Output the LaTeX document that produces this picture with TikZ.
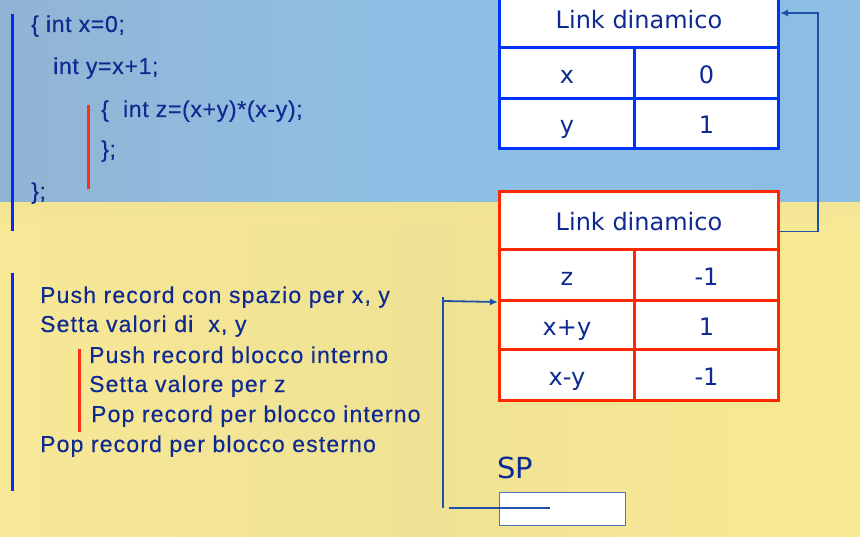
\documentclass[tikz,border=0pt]{standalone}
\usepackage{fontspec}
\setmainfont{Liberation Sans}
\newfontfamily\cellfont{DejaVu Sans}
\newfontfamily\codefont[LetterSpace=3,FakeBold=0.4]{Liberation Sans}
\newfontfamily\stepfont[LetterSpace=5,FakeBold=0.4]{Liberation Sans}
\usetikzlibrary{arrows.meta,calc}

\definecolor{txtblue}{RGB}{14,42,145}
\definecolor{barblue}{RGB}{10,40,250}
\definecolor{barred}{RGB}{250,50,20}
\definecolor{tblblue}{RGB}{0,50,255}
\definecolor{tblred}{RGB}{255,40,0}
\definecolor{linkblue}{RGB}{30,80,170}
\definecolor{spframe}{RGB}{80,115,190}
\definecolor{skyL}{RGB}{146,180,212}
\definecolor{skyM}{RGB}{142,192,230}
\definecolor{skyR}{RGB}{140,190,228}
\definecolor{sandL}{RGB}{246,232,150}
\definecolor{sandM}{RGB}{240,226,148}
\definecolor{sandR}{RGB}{248,234,148}

\tikzset{
  codeline/.style={anchor=base west, inner sep=0pt, text=txtblue,
    font=\codefont\fontsize{23}{27}\selectfont},
  stepline/.style={anchor=base west, inner sep=0pt, text=txtblue,
    font=\stepfont\fontsize{23}{27}\selectfont},
  cell/.style={draw, line width=3pt, fill=white, inner sep=0pt,
    anchor=north west, text=txtblue, text height=21pt, text depth=0pt,
    font=\cellfont\fontsize{24}{28}\selectfont},
  bcell/.style={cell, draw=tblblue},
  rcell/.style={cell, draw=tblred},
  bluebar/.style={draw=barblue, line width=3pt},
  redbar/.style={draw=barred, line width=3pt},
  link/.style={draw=linkblue, line width=1.8pt},
  linkarrow/.style={link, -{Latex[length=8pt,width=7pt]}}
}

\begin{document}
\begin{tikzpicture}[x=1pt,y=-1pt]
  \useasboundingbox (0,0) rectangle (860,537);

  % background: sky above, sand below
  \shade[left color=skyL, right color=skyR, middle color=skyM] (0,0) rectangle (860,203);
  \shade[left color=sandL, right color=sandR, middle color=sandM] (0,203) rectangle (860,537);
  \shade[top color=sandM, bottom color=sandL, opacity=0.5] (0,203) rectangle (860,225);

  % source code with block bars
  \draw[bluebar] (12,14) -- (12,231);
  \draw[redbar] (88,105) -- (88,189);
  \node[codeline] (c1) at (31,32) {\{ int x=0;};
  \node[codeline] (c2) at (53,74) {int y=x+1;};
  \node[codeline] (c3) at (101,117) {\{\ \ int z=(x+y)*(x-y);};
  \node[codeline] (c4) at (101,157) {\};};
  \node[codeline] (c5) at (31,199) {\};};

  % execution steps
  \draw[bluebar] (12,273) -- (12,491);
  \draw[redbar] (79,349) -- (79,432);
  \node[stepline] (s1) at (40,303) {Push record con spazio per x, y};
  \node[stepline] (s2) at (40,332) {Setta valori di\ \ x, y};
  \node[stepline] (s3) at (89,363) {Push record blocco interno};
  \node[stepline] (s4) at (89,392) {Setta valore per z};
  \node[stepline] (s5) at (91,422) {Pop record per blocco interno};
  \node[stepline] (s6) at (40,452) {Pop record per blocco esterno};

  % outer activation record
  \node[bcell, minimum width=279pt, minimum height=58pt] (th) at (498,-12) {Link dinamico};
  \node[bcell, minimum width=135pt, minimum height=51pt] (tx) at (498,46) {x};
  \node[bcell, minimum width=144pt, minimum height=51pt] (txv) at (633,46) {0};
  \node[bcell, minimum width=135pt, minimum height=50pt] (ty) at (498,97) {y};
  \node[bcell, minimum width=144pt, minimum height=50pt] (tyv) at (633,97) {1};

  % inner activation record
  \node[rcell, minimum width=279pt, minimum height=58pt] (rh) at (498,190) {Link dinamico};
  \node[rcell, minimum width=135pt, minimum height=51pt] (rz) at (498,248) {z};
  \node[rcell, minimum width=144pt, minimum height=51pt] (rzv) at (633,248) {-1};
  \node[rcell, minimum width=135pt, minimum height=49pt] (rs) at (498,299) {x+y};
  \node[rcell, minimum width=144pt, minimum height=49pt] (rsv) at (633,299) {1};
  \node[rcell, minimum width=135pt, minimum height=51pt] (rd) at (498,348) {x-y};
  \node[rcell, minimum width=144pt, minimum height=51pt] (rdv) at (633,348) {-1};

  % stack pointer
  \node[anchor=base west, inner sep=0pt, text=txtblue,
        font=\cellfont\fontsize{29}{34}\selectfont] (sp) at (497,478) {SP};
  \node[draw=spframe, line width=1.3pt, fill=white, inner sep=0pt, anchor=north west,
        minimum width=126pt, minimum height=33pt] (spbox) at (499,492) {};

  % dynamic link
  \coordinate (lkturn) at (818,13);
  \draw[linkarrow] ([yshift=-11pt]rh.east) -| (lkturn) -- (lkturn -| th.east);

  % stack pointer link
  \coordinate (spin) at (449,508);
  \coordinate (spmid) at (550,508);
  \coordinate (spfoot) at (443,508);
  \coordinate (sptop) at (443,297);
  \coordinate (spbend) at (443,301);
  \draw[link] (spin) -- (spmid);
  \draw[link] (spfoot) -- (sptop);
  \draw[linkarrow] (spbend) -- (rz.south west);
\end{tikzpicture}
\end{document}
